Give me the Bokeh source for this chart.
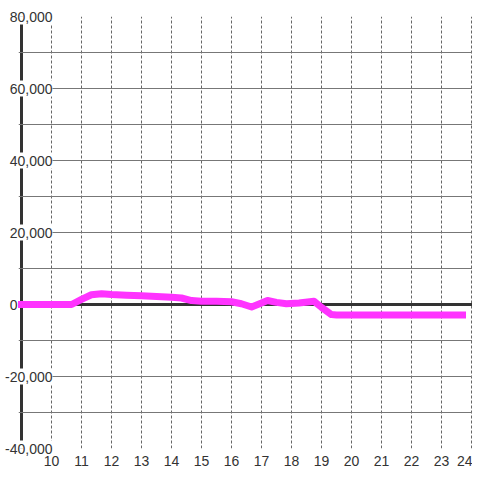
from bokeh.plotting import figure
from bokeh.models import FixedTicker, Range1d, NumeralTickFormatter, Span
from bokeh.embed import file_html
from bokeh.resources import INLINE

# data
hours = [9.0, 10.0, 10.67, 11.0, 11.33, 11.67, 12.0, 12.5, 13.0, 13.5, 14.0, 14.33,
         14.67, 15.0, 15.5, 16.0, 16.33, 16.67, 17.0, 17.2, 17.5, 17.83, 18.25,
         18.75, 19.0, 19.33, 19.5, 20.0, 21.0, 22.0, 23.0, 23.7]
values = [0, 0, 0, 1400, 2700, 3000, 2800, 2600, 2400, 2200, 2000, 1800,
          1100, 900, 900, 750, 200, -700, 400, 1100, 600, 200, 400,
          900, -800, -2800, -2900, -2900, -2900, -2900, -2900, -2900]

x_ticks = list(range(10, 25))
y_major = list(range(-40000, 80001, 20000))
y_grid = list(range(-40000, 80001, 10000))

X_START, X_END = 8.9, 24.033
FONT = "Liberation Sans"

p = figure(width=472, height=472, output_backend="svg", toolbar_location=None,
           x_range=Range1d(X_START, X_END), y_range=Range1d(-40000, 80000),
           min_border_left=18, min_border_right=0, min_border_top=16,
           min_border_bottom=24)
p.outline_line_color = None
p.background_fill_color = "white"
p.border_fill_color = "white"

# grids
p.xgrid.ticker = FixedTicker(ticks=x_ticks)
p.xgrid.grid_line_color = "#666666"
p.xgrid.grid_line_dash = "3 2"
p.xgrid.grid_line_width = 1
p.ygrid.ticker = FixedTicker(ticks=y_grid)
p.ygrid.grid_line_color = "#777777"
p.ygrid.grid_line_width = 1

# x axis
p.xaxis.ticker = FixedTicker(ticks=x_ticks)
p.xaxis.axis_line_color = None
p.xaxis.major_tick_line_color = None
p.xaxis.minor_tick_line_color = None
p.xaxis.major_label_text_font = FONT
p.xaxis.major_label_text_font_size = "14px"
p.xaxis.major_label_text_color = "#333333"
p.xaxis.major_label_standoff = 1

# y axis: labels overlap the plot area
p.yaxis.ticker = FixedTicker(ticks=y_major)
p.yaxis.formatter = NumeralTickFormatter(format="0,0")
p.yaxis.major_label_overrides = {0: "0\u2007\u2007\u2007\u2007\u00a0"}
p.yaxis.axis_line_color = None
p.yaxis.major_tick_line_color = None
p.yaxis.minor_tick_line_color = None
p.yaxis.major_tick_out = 0
p.yaxis.major_tick_in = 0
p.yaxis.major_label_standoff = -34
p.yaxis.major_label_text_font = FONT
p.yaxis.major_label_text_font_size = "14px"
p.yaxis.major_label_text_color = "#333333"

# zero line and thick vertical axis line at the start of the day
p.add_layout(Span(location=0, dimension="width", line_color="#333333",
                  line_width=3, level="underlay"))
p.vspan(x=[hours[0]], line_color="#333333", line_width=3, level="underlay")

# white boxes behind the y labels (hide grid and axis line under the labels)
mask_y = [v for v in y_major if v != 0]
p.rect(x=[hours[0]] * len(mask_y), y=mask_y, width=62, height=16,
       width_units="screen", height_units="screen",
       fill_color="white", line_color=None, level="glyph")

p.line(hours, values, line_color="#ff33ff", line_width=7, level="overlay",
       line_join="round", line_cap="square")

open("out.html", "w").write(file_html(p, INLINE))
